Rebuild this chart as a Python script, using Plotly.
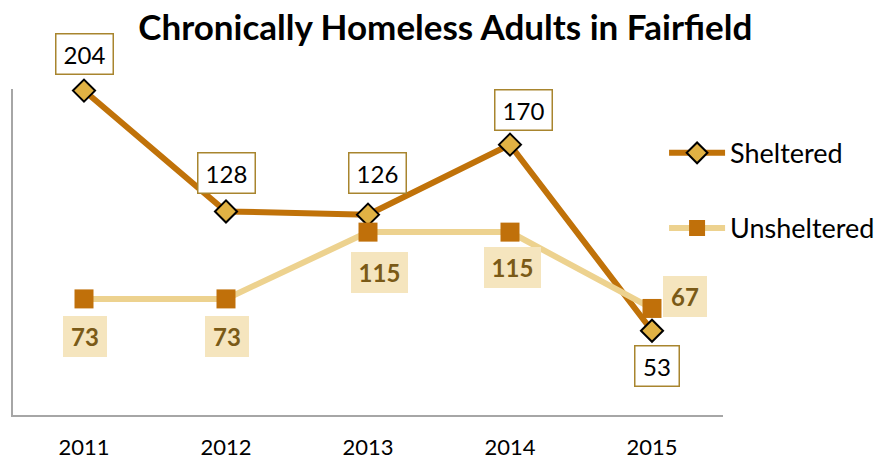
import plotly.graph_objects as go

years = ["2011", "2012", "2013", "2014", "2015"]
sheltered = [204, 128, 126, 170, 53]
unsheltered = [73, 73, 115, 115, 67]

# label offsets in pixels (layout only)
sh_off = [(0, 37), (0, 38), (9, 42), (13, 35), (5, -35)]
un_off = [(1, -38), (1, -38), (11, -40), (2, -35), (33, 12)]

FONT = "Lato"
C_SH_LINE = "#c07209"
C_SH_MARK = "#e1b244"
C_UN_LINE = "#edd28f"
C_UN_MARK = "#c0700a"
C_BOX_BORDER = "#a8852e"
C_UN_BOX = "#f5e5be"
C_UN_TEXT = "#7a5a17"

fig = go.Figure()
fig.add_trace(go.Scatter(
    x=years, y=sheltered, name="Sheltered", mode="lines+markers",
    line=dict(color=C_SH_LINE, width=6),
    marker=dict(symbol="diamond", size=17, color=C_SH_MARK,
                line=dict(color="black", width=2)),
    legendgroup="a", cliponaxis=False,
))
fig.add_trace(go.Scatter(
    x=years, y=unsheltered, name="Unsheltered", mode="lines+markers",
    line=dict(color=C_UN_LINE, width=6),
    marker=dict(symbol="square", size=19, color=C_UN_MARK, line=dict(width=0)),
    legendgroup="b", cliponaxis=False,
))

annotations = []
for i, (v, (dx, dy)) in enumerate(zip(sheltered, sh_off)):
    w = 54 if v >= 100 else 41
    annotations.append(dict(
        x=i, y=v, xref="x", yref="y", text=str(v), showarrow=False,
        xshift=dx, yshift=dy, width=w, height=37, borderpad=1,
        bordercolor=C_BOX_BORDER, borderwidth=1.5, bgcolor="white",
        font=dict(family=FONT, size=24, color="black"),
    ))
for i, (v, (dx, dy)) in enumerate(zip(unsheltered, un_off)):
    w = 55 if v >= 100 else 42
    annotations.append(dict(
        x=i, y=v, xref="x", yref="y", text="<b>%d</b>" % v, showarrow=False,
        xshift=dx, yshift=dy, width=w, height=39, borderpad=1,
        borderwidth=0, bgcolor=C_UN_BOX,
        font=dict(family=FONT, size=24, color=C_UN_TEXT),
    ))

fig.update_layout(
    width=887, height=461,
    margin=dict(l=13, r=164, t=89, b=46, autoexpand=False),
    paper_bgcolor="white", plot_bgcolor="white",
    title=dict(text="<b>Chronically Homeless Adults in Fairfield</b>",
               x=0.502, xref="container", xanchor="center", y=0.94, yanchor="middle",
               font=dict(family=FONT, size=35, color="black")),
    xaxis=dict(type="category", range=[-0.5, 4.5], showgrid=False, zeroline=False,
               showline=True, linecolor="#a6a6a6", linewidth=2,
               ticks="", ticklabelstandoff=12,
               tickfont=dict(family=FONT, size=22, color="black")),
    yaxis=dict(range=[0, 205], showgrid=False, zeroline=False,
               showline=True, linecolor="#a6a6a6", linewidth=2,
               showticklabels=False, ticks=""),
    legend=dict(x=0.917, xanchor="left", y=0.878, yanchor="top",
                font=dict(family=FONT, size=27, color="black"),
                tracegroupgap=37, itemwidth=56, bgcolor="rgba(0,0,0,0)"),
    annotations=annotations,
)

fig.write_html("out.html", config={"displayModeBar": False},
               post_script="document.body.style.margin='0';document.body.style.overflow='hidden';")
